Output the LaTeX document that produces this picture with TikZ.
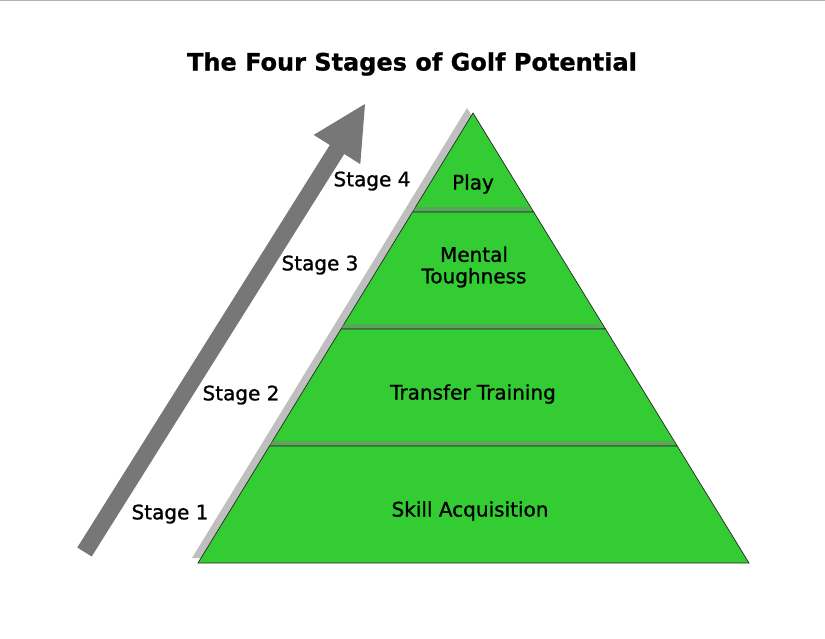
\documentclass[tikz,border=0pt]{standalone}
\usepackage{fontspec}
\setmainfont{DejaVu Sans}
\newfontfamily\lblfont[FakeBold=1.1]{DejaVu Sans}
\newfontfamily\ttlfont[FakeBold=0.8]{DejaVu Sans Bold}
\begin{document}
\begin{tikzpicture}[x=1pt,y=-1pt,
  tier/.style={fill=tiergreen,draw=black!85,line width=0.7pt,line join=miter},
  tiershadow/.style={fill=gray!100,fill opacity=0.5},
  lbl/.style={font=\lblfont\fontsize{20}{21.5}\selectfont,text=black,align=center,inner sep=0pt},
  stagelbl/.style={font=\lblfont\fontsize{20}{21.5}\selectfont,text=black,inner sep=0pt}]
\definecolor{tiergreen}{HTML}{33CC33}
\definecolor{arrowgray}{HTML}{777777}
\definecolor{topline}{HTML}{B0B0B0}
\useasboundingbox[fill=white] (0,0) rectangle (825,638);
\draw[topline,line width=1.2pt] (0,0.6) -- (825,0.6);
% title
\node[font=\ttlfont\fontsize{24}{28}\selectfont,inner sep=0pt] (title) at (412,64) {The Four Stages of Golf Potential};
% arrow
\fill[arrowgray] (77.3,547.5) -- (329.8,145.0) -- (313.7,134.9) -- (365,104) -- (360.3,164.1) -- (344.2,154.0) -- (91.7,556.5) -- cycle;
% tier 4
\fill[tiershadow,shift={(-6,-5)}] (473,113) -- (533.7,212) -- (412.5,212) -- cycle;
\path[tier] (473,113) -- (533.7,212) -- (412.5,212) -- cycle;
% tier 3
\fill[tiershadow,shift={(-6,-5)}] (412.5,212) -- (533.7,212) -- (605.5,329) -- (341.0,329) -- cycle;
\path[tier] (412.5,212) -- (533.7,212) -- (605.5,329) -- (341.0,329) -- cycle;
% tier 2
\fill[tiershadow,shift={(-6,-5)}] (341.0,329) -- (605.5,329) -- (677.2,446) -- (269.5,446) -- cycle;
\path[tier] (341.0,329) -- (605.5,329) -- (677.2,446) -- (269.5,446) -- cycle;
% tier 1
\fill[tiershadow,shift={(-6,-5)}] (269.5,446) -- (677.2,446) -- (749,563) -- (198,563) -- cycle;
\path[tier] (269.5,446) -- (677.2,446) -- (749,563) -- (198,563) -- cycle;
% tier labels
\node[lbl] (play) at (473,184) {Play};
\node[lbl] (mental) at (474,267) {Mental\\Toughness};
\node[lbl] (transfer) at (473,394) {Transfer Training};
\node[lbl] (skill) at (470,511) {Skill Acquisition};
% stage labels
\node[stagelbl] (s4) at (372,181) {Stage 4};
\node[stagelbl] (s3) at (320,265) {Stage 3};
\node[stagelbl] (s2) at (241,395) {Stage 2};
\node[stagelbl] (s1) at (170,514) {Stage 1};
\end{tikzpicture}
\end{document}
